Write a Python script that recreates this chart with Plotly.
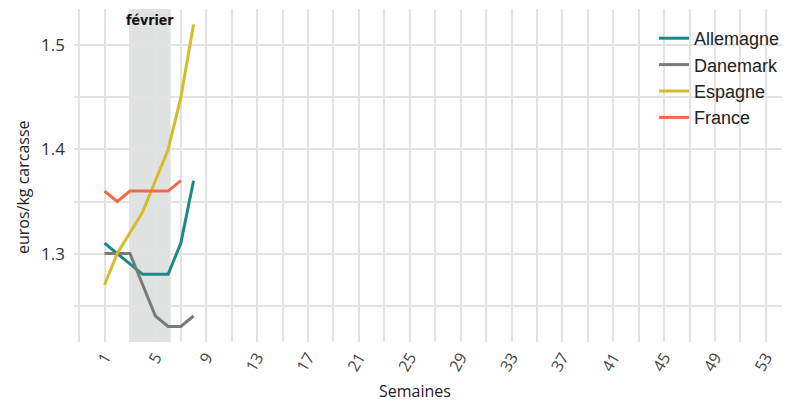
import plotly.graph_objects as go

# --- Data (weekly prices, euros/kg carcasse) ---
weeks = [1, 2, 3, 4, 5, 6, 7, 8]
allemagne = [1.31, 1.30, 1.29, 1.28, 1.28, 1.28, 1.31, 1.37]
danemark = [1.30, 1.30, 1.30, 1.27, 1.24, 1.23, 1.23, 1.24]
espagne = [1.27, 1.30, 1.32, 1.34, 1.37, 1.40, 1.45, 1.52]
weeks_fr = [1, 2, 3, 4, 5, 6, 7]
france = [1.36, 1.35, 1.36, 1.36, 1.36, 1.36, 1.37]

month_label = "février"
month_start, month_end = 3, 6.2

tick_weeks = list(range(1, 54, 4))

series = [
    ("Allemagne", weeks, allemagne, "#1b8a86"),
    ("Danemark", weeks, danemark, "#7a7a7a"),
    ("Espagne", weeks, espagne, "#d5bd2a"),
    ("France", weeks_fr, france, "#f2694a"),
]

# the html page body has an 8px margin, so figure coords = screen coords - 8
OFF = 8
W, H = 790, 402
L, T = 74 - OFF, 9 - OFF
R = W - (785 - OFF)
B = H - (342 - OFF)
PW = W - L - R
PH = H - T - B


def px_x(sx):
    return (sx - OFF - L) / PW


def px_y(sy):
    return 1 - (sy - OFF - T) / PH


fig = go.Figure()
for name, x, y, col in series:
    fig.add_trace(go.Scatter(
        x=x, y=y, name=name, mode="lines",
        line=dict(color=col, width=3),
        legendgroup=name,
    ))

# shaded month
fig.add_shape(type="rect", xref="x", yref="paper",
              x0=month_start, x1=month_end, y0=0, y1=1,
              fillcolor="#e0e1e1", line_width=0, layer="between")
fig.add_annotation(x=(month_start + month_end) / 2, y=px_y(20), yref="paper",
                   xanchor="center", yanchor="middle",
                   text="<b>" + month_label + "</b>", showarrow=False,
                   font=dict(family="Liberation Sans Narrow, DejaVu Sans Condensed",
                             size=14, color="#111"))

# axis titles
fig.add_annotation(x=px_x(415), xref="paper", y=px_y(391), yref="paper",
                   xanchor="center", yanchor="middle",
                   text="Semaines", showarrow=False,
                   font=dict(family="Open Sans", size=16, color="#222"))
fig.add_annotation(x=px_x(23), xref="paper", y=px_y(187), yref="paper",
                   xanchor="center", yanchor="middle",
                   text="euros/kg carcasse", textangle=-90, showarrow=False,
                   font=dict(family="Open Sans", size=16, color="#222"))

fig.update_layout(
    width=W, height=H,
    margin=dict(l=L, r=R, t=T, b=B, autoexpand=False),
    plot_bgcolor="white", paper_bgcolor="white",
    font=dict(family="Open Sans", color="#333"),
    showlegend=True,
    legend=dict(x=px_x(654), xanchor="left", y=px_y(20), yanchor="top",
                font=dict(family="Liberation Sans", size=18, color="#222"),
                tracegroupgap=0, traceorder="grouped",
                bgcolor="rgba(0,0,0,0)"),
    xaxis=dict(range=[-1.4, 54.5], tickvals=tick_weeks, tickangle=-60,
               automargin=False,
               showgrid=True, gridcolor="#e3e3e3", gridwidth=1.5,
               zeroline=False, showline=False, ticks="",
               ticklabelstandoff=2,
               tickfont=dict(size=16, color="#444"),
               minor=dict(tickvals=list(range(-1, 56, 2)), showgrid=True,
                          gridcolor="#e3e3e3", gridwidth=1.5)),
    yaxis=dict(range=[1.215, 1.535], tickvals=[1.3, 1.4, 1.5],
               automargin=False,
               showgrid=True, gridcolor="#e3e3e3", gridwidth=1.5,
               zeroline=False, showline=False, ticks="",
               ticklabelstandoff=8,
               tickfont=dict(size=17, color="#333"),
               minor=dict(tickvals=[1.25, 1.35, 1.45], showgrid=True,
                          gridcolor="#e3e3e3", gridwidth=1.5)),
)

fig.write_html("out.html")
